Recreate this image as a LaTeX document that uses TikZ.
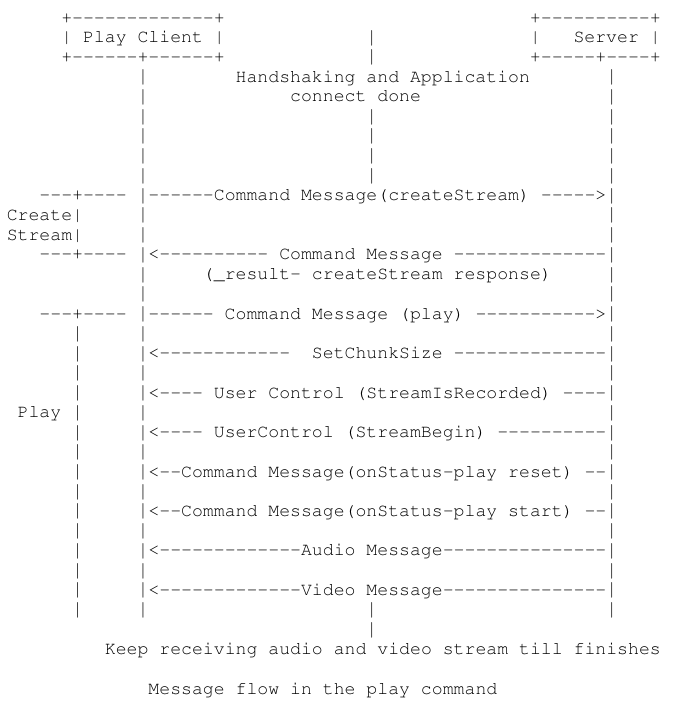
\documentclass[tikz,border=0pt]{standalone}
\usepackage[T1]{fontenc}
\usepackage{courier}
\newcommand\colx[1]{137.55+10.9*(#1)}
\newcommand\rowy[1]{23+19.74*(#1)}
\newcommand\barx[1]{143+10.9*(#1)}
\newcommand\bary[1]{18.3+19.74*(#1)}
% a run of hyphens with the ligatures broken
\newcommand\hy[1]{\foreach \hi in {1,...,#1}{-}}
\tikzset{
  asc/.style={anchor=base west, inner sep=0pt, outer sep=0pt, text=black,
    font=\ttfamily\fontsize{18.17}{20}\selectfont},
  vbar/.style={anchor=center, inner sep=0pt, outer sep=0pt, text=black,
    font=\ttfamily\fontsize{18.17}{20}\selectfont, yscale=1.18, transform shape}
}
\begin{document}
\begin{tikzpicture}[x=1pt,y=-1pt]
\fill[white] (0,0) rectangle (675,705);
\useasboundingbox (0,0) rectangle (675,705);
% boxes of the two parties
\node[asc] (cbt) at ({\colx{-7}},{\rowy{0}}) {+\hy{13}+};
\node[asc] (cbm) at ({\colx{-7}},{\rowy{1}}) {|~Play~Client~|};
\node[asc] (cbb) at ({\colx{-7}},{\rowy{2}}) {+\hy{6}+\hy{6}+};
\node[asc] (sbt) at ({\colx{36}},{\rowy{0}}) {+\hy{10}+};
\node[asc] (sbm) at ({\colx{36}},{\rowy{1}}) {|~~~Server~|};
\node[asc] (sbb) at ({\colx{36}},{\rowy{2}}) {+\hy{5}+\hy{4}+};
% lifelines drawn as stacked bars
\foreach \r in {3,...,30} {
  \node[vbar] (cl\r) at ({\barx{0}},{\bary{\r}}) {|};
  \node[vbar] (sl\r) at ({\barx{43}},{\bary{\r}}) {|};
}
\foreach \r in {1,2,5,6,7,8,30,31} {
  \node[vbar] (ml\r) at ({\barx{21}},{\bary{\r}}) {|};
}
\foreach \r in {16,...,30} {
  \node[vbar] (pl\r) at ({\barx{-6}},{\bary{\r}}) {|};
}
% texts
\node[asc] (hs1) at ({\colx{9}},{\rowy{3}}) {Handshaking~and~Application};
\node[asc] (hs2) at ({\colx{14}},{\rowy{4}}) {connect~done};
\node[asc] (cs1) at ({\colx{-9}},{\rowy{9}}) {\hy{3}+\hy{4}};
\node[asc] (m1) at ({\colx{1}},{\rowy{9}}) {\hy{6}Command~Message(createStream)~\hy{5}>};
\node[asc] (cs2) at ({\colx{-12}},{\rowy{10}}) {Create|};
\node[asc] (cs3) at ({\colx{-12}},{\rowy{11}}) {Stream|};
\node[asc] (cs4) at ({\colx{-9}},{\rowy{12}}) {\hy{3}+\hy{4}};
\node[asc] (m2) at ({\colx{1}},{\rowy{12}}) {<\hy{10}~Command~Message~\hy{14}};
\node[asc] (m2b) at ({\colx{6}},{\rowy{13}}) {(\_result-~createStream~response)};
\node[asc] (pb) at ({\colx{-9}},{\rowy{15}}) {\hy{3}+\hy{4}};
\node[asc] (m3) at ({\colx{1}},{\rowy{15}}) {\hy{6}~Command~Message~(play)~\hy{11}>};
\node[asc] (m4) at ({\colx{1}},{\rowy{17}}) {<\hy{12}~~SetChunkSize~\hy{14}};
\node[asc] (m5) at ({\colx{1}},{\rowy{19}}) {<\hy{4}~User~Control~(StreamIsRecorded)~\hy{4}};
\node[asc] (play) at ({\colx{-11}},{\rowy{20}}) {Play};
\node[asc] (m6) at ({\colx{1}},{\rowy{21}}) {<\hy{4}~UserControl~(StreamBegin)~\hy{10}};
\node[asc] (m7) at ({\colx{1}},{\rowy{23}}) {<\hy{2}Command~Message(onStatus-play~reset)~\hy{2}};
\node[asc] (m8) at ({\colx{1}},{\rowy{25}}) {<\hy{2}Command~Message(onStatus-play~start)~\hy{2}};
\node[asc] (m9) at ({\colx{1}},{\rowy{27}}) {<\hy{13}Audio~Message\hy{15}};
\node[asc] (m10) at ({\colx{1}},{\rowy{29}}) {<\hy{13}Video~Message\hy{15}};
\node[asc] (keep) at ({\colx{-3}},{\rowy{32}}) {Keep~receiving~audio~and~video~stream~till~finishes};
\node[asc] (cap) at ({\colx{1}},{\rowy{34}}) {Message~flow~in~the~play~command};
\end{tikzpicture}
\end{document}
